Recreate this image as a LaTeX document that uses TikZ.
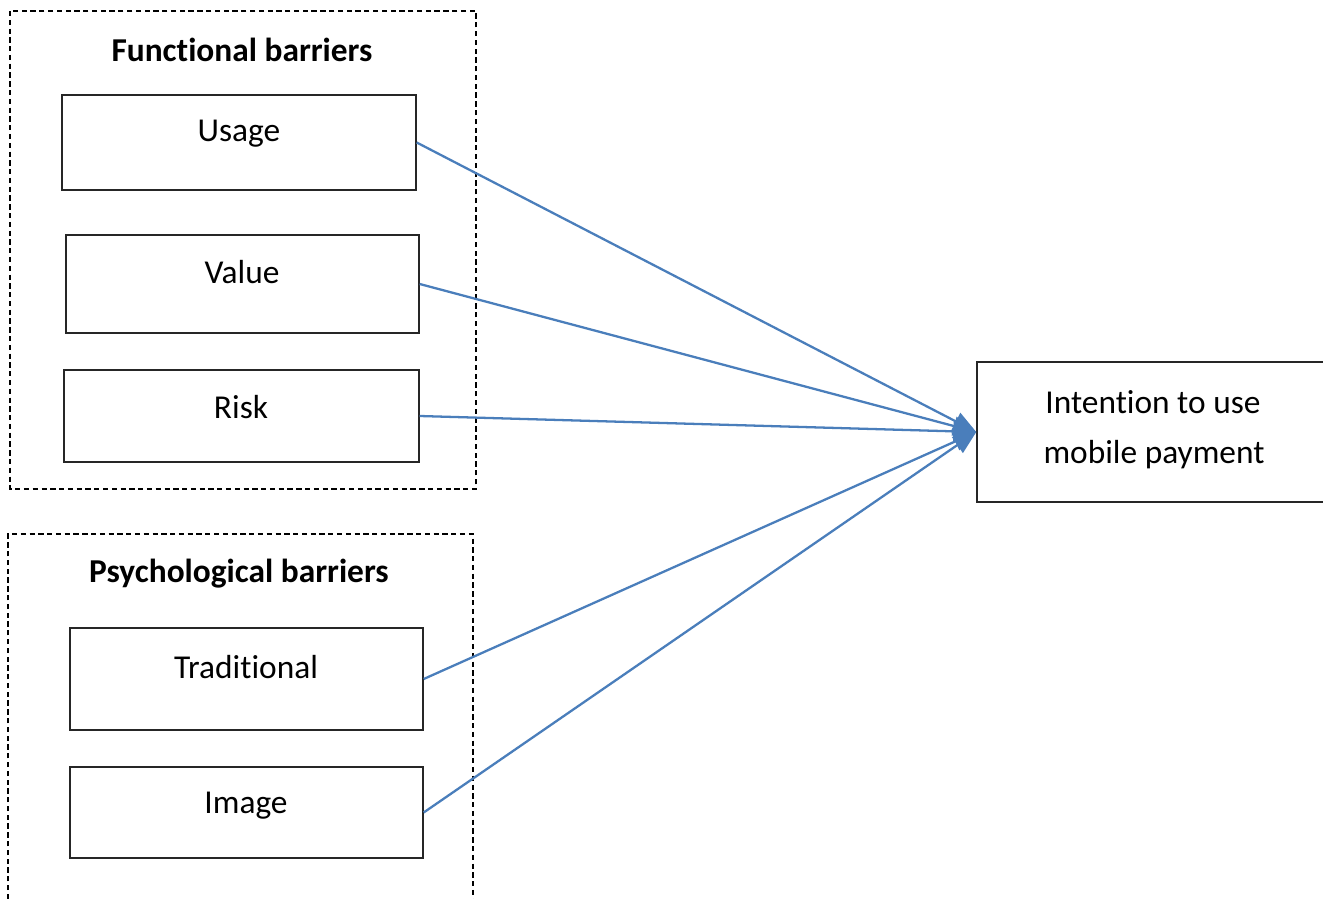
\documentclass[tikz,border=0pt]{standalone}
\usepackage{fontspec}
\setmainfont[Ligatures={NoCommon}]{Carlito}
\usetikzlibrary{arrows.meta}
\definecolor{arrblue}{RGB}{74,126,187}
\tikzset{
  box/.style={draw=black!85, line width=0.8pt, rectangle, inner sep=0pt},
  grp/.style={draw=black, line width=0.6pt, dash pattern=on 3pt off 2pt},
  lbl/.style={inner sep=0pt, font=\fontsize{19}{22}\selectfont},
  hdr/.style={inner sep=0pt, font=\fontsize{19}{22}\selectfont\bfseries},
  arr/.style={draw=arrblue, line width=1.3pt, -{Triangle[length=0.46cm,width=0.38cm]}},
}
\begin{document}
\begin{tikzpicture}[x=0.02cm,y=-0.02cm]
\useasboundingbox (0,0) rectangle (1323,899);
% group frames
\draw[grp] (10,11) rectangle (476,489);
\draw[grp] (8,899) -- (8,534) -- (473,534) -- (473,899);
\node[hdr] (fhdr) at (242,50) {Functional barriers};
\node[hdr] (phdr) at (239,574) {Psychological barriers};
% boxes
\node[box, minimum width=354*0.02cm, minimum height=95*0.02cm] (usage) at (239,142.5) {};
\node[box, minimum width=353*0.02cm, minimum height=98*0.02cm] (value) at (242.5,284) {};
\node[box, minimum width=355*0.02cm, minimum height=92*0.02cm] (risk) at (241.5,416) {};
\node[box, minimum width=353*0.02cm, minimum height=102*0.02cm] (trad) at (246.5,679) {};
\node[box, minimum width=353*0.02cm, minimum height=91*0.02cm] (image) at (246.5,812.5) {};
\node[box, minimum width=350*0.02cm, minimum height=140*0.02cm] (intent) at (1152,432) {};
% texts
\node[lbl] (usaget) at (239,134) {Usage};
\node[lbl] (valuet) at (242,272) {Value};
\node[lbl] (riskt) at (241,407) {Risk};
\node[lbl] (tradt) at (246,667) {Traditional};
\node[lbl] (imaget) at (246,806) {Image};
\node[lbl] (intentt1) at (1153,402) {Intention to use};
\node[lbl] (intentt2) at (1154,455) {mobile payment};
% connectors
\draw[arr] (usage.east) -- (intent.west);
\draw[arr] (value.east) -- (intent.west);
\draw[arr] (risk.east) -- (intent.west);
\draw[arr] (trad.east) -- (intent.west);
\draw[arr] (image.east) -- (intent.west);
\end{tikzpicture}
\end{document}
